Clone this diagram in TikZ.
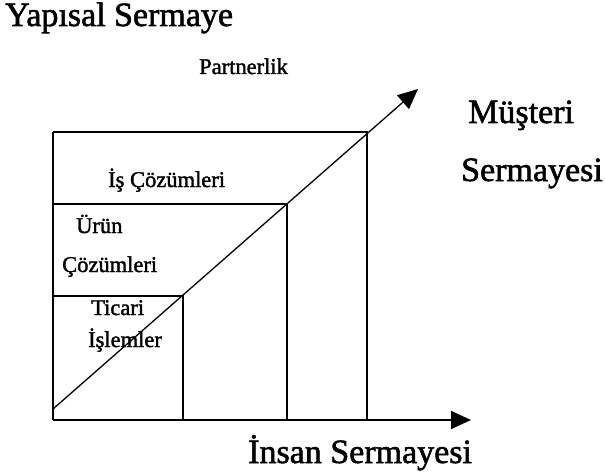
\documentclass[tikz,border=0pt]{standalone}
\usepackage{fontspec}
\setmainfont{Liberation Serif}
\newfontfamily\scanfont{Liberation Serif}[FakeBold=1.6]
\usetikzlibrary{arrows.meta}
\begin{document}
\begin{tikzpicture}[x=1pt,y=-1pt,
  axisline/.style={line width=1.8pt},
  boxline/.style={line width=1.6pt},
  diagline/.style={line width=1.3pt},
  bigtxt/.style={anchor=base west,inner sep=0pt,font=\scanfont\fontsize{34}{37}\selectfont},
  smalltxt/.style={anchor=base west,inner sep=0pt,font=\scanfont\fontsize{22.5}{25}\selectfont},
  head/.style={-{Triangle[length=20pt,width=18pt]}}]
\useasboundingbox (0,0) rectangle (605,476);
% corner points
\coordinate (o) at (53,420);
\coordinate (xend) at (471,420);
\coordinate (dstart) at (53,409);
\coordinate (dend) at (418,89);
\coordinate (tl) at (53,132);
\coordinate (tr) at (367,132);
\coordinate (br) at (367,420);
\coordinate (ml) at (53,204);
\coordinate (mr) at (287,204);
\coordinate (mb) at (287,420);
\coordinate (sl) at (53,296);
\coordinate (sr) at (183,296);
\coordinate (sb) at (183,420);
% boxes
\draw[boxline] (tl) -- (tr) -- (br);
\draw[boxline] (ml) -- (mr) -- (mb);
\draw[boxline] (sl) -- (sr) -- (sb);
\draw[boxline] (tl) -- (o);
% axes
\draw[axisline,head] (o) -- (xend);
\draw[diagline,head] (dstart) -- (dend);
% texts
\node[bigtxt] (ys) at (5,26) {Yapısal Sermaye};
\node[smalltxt] (pa) at (199,74) {Partnerlik};
\node[bigtxt] (mu) at (468,123) {Müşteri};
\node[bigtxt] (se) at (461,181) {Sermayesi};
\node[smalltxt] (is) at (108,187) {İş Çözümleri};
\node[smalltxt] (ur) at (76,233) {Ürün};
\node[smalltxt] (co) at (62,272) {Çözümleri};
\node[smalltxt] (ti) at (91,315) {Ticari};
\node[smalltxt] (il) at (88,347) {İşlemler};
\node[bigtxt] (in) at (248,463) {İnsan Sermayesi};
\end{tikzpicture}
\end{document}
